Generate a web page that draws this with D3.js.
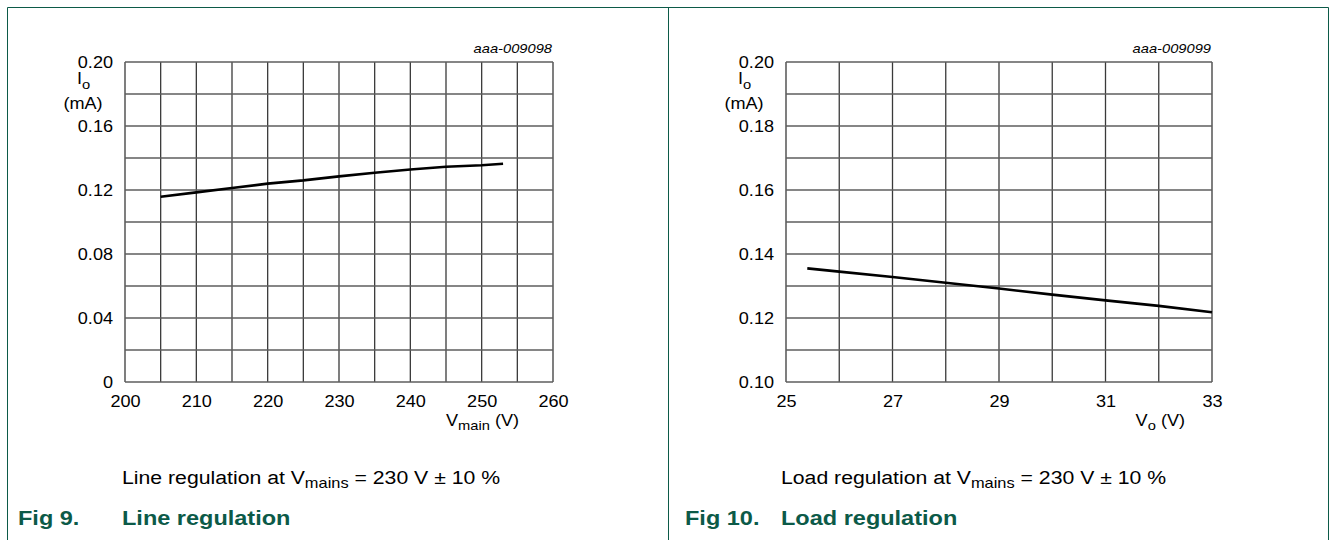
<!DOCTYPE html>
<html>
<head>
<meta charset="utf-8">
<script src="https://cdn.jsdelivr.net/npm/d3@7"></script>
<style>
  body { margin: 0; background: #fff; }
  text { font-family: "Liberation Sans", Arial, sans-serif; fill: #000; }
</style>
</head>
<body>
<div id="vis"></div>
<script>
// Fig 9: line regulation
const lineVmain = [205, 210, 215, 220, 225, 230, 235, 240, 245, 250, 253];
const lineIo = [0.1158, 0.1185, 0.1212, 0.124, 0.126, 0.1285, 0.1308, 0.1328, 0.1345, 0.1355, 0.1364];
const lineXTicks = [200, 210, 220, 230, 240, 250, 260];
const lineYTicks = [0, 0.04, 0.08, 0.12, 0.16, 0.2];

// Fig 10: load regulation
const loadVo = [25.4, 26, 27, 28, 29, 30, 31, 32, 33];
const loadIo = [0.1355, 0.1345, 0.1328, 0.131, 0.1292, 0.1273, 0.1255, 0.1238, 0.1218];
const loadXTicks = [25, 27, 29, 31, 33];
const loadYTicks = [0.1, 0.12, 0.14, 0.16, 0.18, 0.2];

const green = "#0c5a48";
const W = 1330, H = 540;
const stretch = 1.13; // the source type is set wide

const svg = d3.select("#vis").append("svg")
  .attr("width", W)
  .attr("height", H);

// frame
svg.append("path")
  .attr("d", "M7.5,540 V7.5 H1328.5 V540 M668.5,7.5 V540")
  .attr("fill", "none")
  .attr("stroke", green)
  .attr("stroke-width", 1);

function drawChart(cfg) {
  const g = svg.append("g");
  const x = d3.scaleLinear().domain(cfg.xDomain).range([cfg.left, cfg.right]);
  const y = d3.scaleLinear().domain(cfg.yDomain).range([382, 62]);

  // grid
  const xs = d3.range(cfg.xDomain[0], cfg.xDomain[1] + cfg.xStep / 2, cfg.xStep);
  const ys = d3.range(0, 11).map(i => cfg.yDomain[0] + i * (cfg.yDomain[1] - cfg.yDomain[0]) / 10);
  g.selectAll(".vg").data(xs).join("line")
    .attr("x1", d => x(d)).attr("x2", d => x(d))
    .attr("y1", y.range()[0]).attr("y2", y.range()[1])
    .attr("stroke", "#3a3a3a").attr("stroke-width", 1.3);
  g.selectAll(".hg").data(ys).join("line")
    .attr("x1", cfg.left).attr("x2", cfg.right)
    .attr("y1", d => y(d)).attr("y2", d => y(d))
    .attr("stroke", "#5e5e5e").attr("stroke-width", 1.6);

  // tick labels
  const yAxis = g.append("g")
    .attr("transform", `translate(${cfg.left},0)`)
    .call(d3.axisLeft(y).tickValues(cfg.yTicks).tickSize(0).tickPadding(12)
      .tickFormat(d => d === 0 ? "0" : d3.format(".2f")(d)));
  const xAxis = g.append("g")
    .attr("transform", "translate(0,382)")
    .call(d3.axisBottom(x).tickValues(cfg.xTicks).tickSize(0).tickPadding(14)
      .tickFormat(d3.format("d")));
  [xAxis, yAxis].forEach(a => {
    a.select(".domain").remove();
    a.selectAll("text")
      .attr("fill", "#000")
      .style("font-family", "'Liberation Sans', Arial, sans-serif")
      .style("font-size", "16px");
  });

  // data line
  const line = d3.line()
    .x(d => x(d[0]))
    .y(d => y(d[1]));
  g.append("path")
    .datum(cfg.xs.map((v, i) => [v, cfg.ys[i]]))
    .attr("fill", "none")
    .attr("stroke", "#000")
    .attr("stroke-width", 2.6)
    .attr("d", line);

  // code label
  g.append("text")
    .attr("x", cfg.right - 1)
    .attr("y", 53)
    .attr("text-anchor", "end")
    .style("font-style", "italic")
    .style("font-size", "13px")
    .text(cfg.code);

  // y label
  const io = g.append("text")
    .attr("x", cfg.left - 48)
    .attr("y", 84)
    .style("font-size", "16px");
  io.append("tspan").text("I");
  io.append("tspan").attr("dy", 5).style("font-size", "13px").text("o");
  g.append("text")
    .attr("x", cfg.left - 42)
    .attr("y", 109)
    .attr("text-anchor", "middle")
    .style("font-size", "16px")
    .text("(mA)");

  // x label
  const xl = g.append("text")
    .attr("x", cfg.xLabelX)
    .attr("y", 426)
    .attr("text-anchor", "end")
    .style("font-size", "16px");
  xl.append("tspan").text("V");
  xl.append("tspan").attr("dy", 4).style("font-size", "13px").text(cfg.xSub);
  xl.append("tspan").attr("dy", -4).text(" (V)");

  // caption
  const cap = g.append("text")
    .attr("x", cfg.capX)
    .attr("y", 484)
    .style("font-size", "18.8px");
  cap.append("tspan").text(cfg.capLead + " at V");
  cap.append("tspan").attr("dy", 4).style("font-size", "14.5px").text("mains");
  cap.append("tspan").attr("dy", -4).text(" = 230 V \u00b1 10 %");

  // figure heading
  g.append("text")
    .attr("x", cfg.figX)
    .attr("y", 525)
    .style("font-size", "20.8px")
    .style("font-weight", "bold")
    .style("fill", green)
    .text(cfg.fig);
  g.append("text")
    .attr("x", cfg.capX)
    .attr("y", 525)
    .style("font-size", "20.8px")
    .style("font-weight", "bold")
    .style("fill", green)
    .text(cfg.title);
}

drawChart({
  left: 125, right: 553,
  xDomain: [200, 260], xStep: 5, yDomain: [0, 0.2],
  xTicks: lineXTicks, yTicks: lineYTicks,
  xs: lineVmain, ys: lineIo,
  code: "aaa-009098", xSub: "main", xLabelX: 519,
  capLead: "Line regulation", capX: 122,
  fig: "Fig 9.", figX: 18, title: "Line regulation"
});

drawChart({
  left: 786, right: 1212,
  xDomain: [25, 33], xStep: 1, yDomain: [0.1, 0.2],
  xTicks: loadXTicks, yTicks: loadYTicks,
  xs: loadVo, ys: loadIo,
  code: "aaa-009099", xSub: "o", xLabelX: 1185,
  capLead: "Load regulation", capX: 781,
  fig: "Fig 10.", figX: 685, title: "Load regulation"
});

// widen every label to match the source lettering
svg.selectAll("text").each(function() {
  const len = this.getComputedTextLength();
  d3.select(this)
    .attr("textLength", len * stretch)
    .attr("lengthAdjust", "spacingAndGlyphs");
});
</script>
</body>
</html>
